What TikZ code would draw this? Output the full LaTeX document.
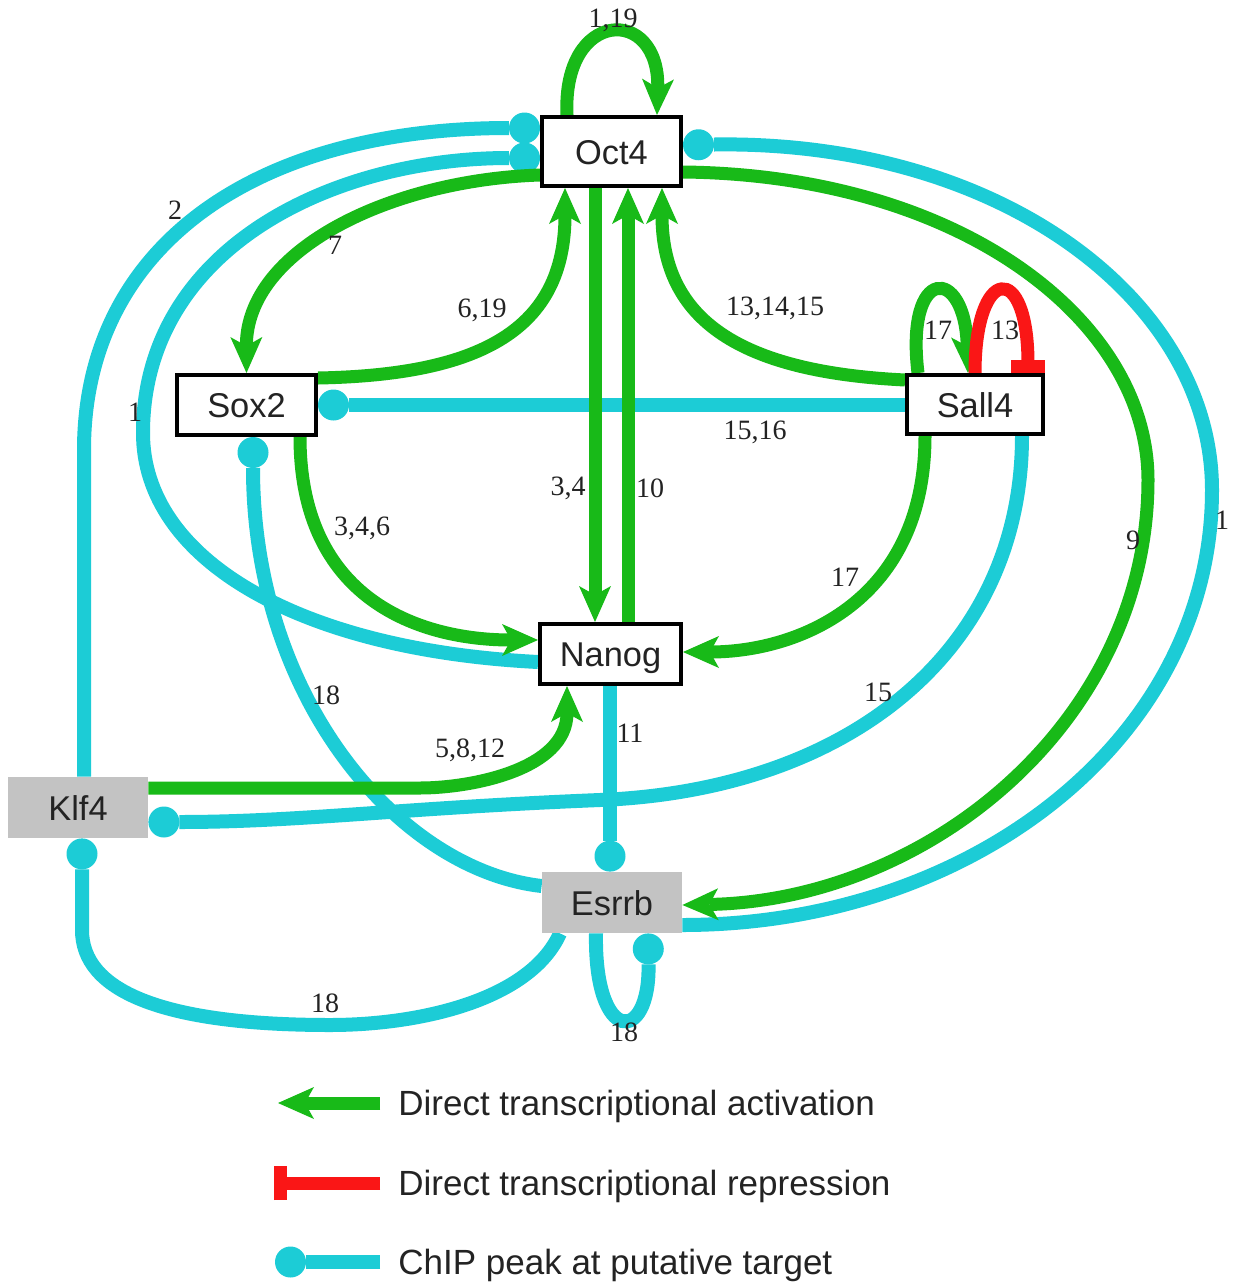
\documentclass[tikz,border=0pt]{standalone}
\usepackage{fontspec}
\setmainfont{Liberation Serif}
\newfontfamily\labfont{Liberation Sans}
\usetikzlibrary{arrows.meta,calc}
\definecolor{grn}{RGB}{24,186,24}
\definecolor{cyn}{RGB}{28,204,214}
\definecolor{rd}{RGB}{250,22,22}
\definecolor{gry}{RGB}{195,195,195}
\definecolor{txt}{RGB}{35,35,35}
\pgfdeclarelayer{bg}
\pgfsetlayers{bg,main}
\tikzset{
  gene/.style={draw=black, line width=2pt, fill=white, inner sep=0pt,
    text height=12.5pt, text depth=0pt, text=txt,
    font=\labfont\fontsize{17.2pt}{20pt}\selectfont},
  ggene/.style={fill=gry, inner sep=0pt, text height=12.5pt, text depth=0pt, text=txt,
    font=\labfont\fontsize{17.2pt}{20pt}\selectfont},
  act/.style={draw=grn, line width=6.5pt, -{Stealth[length=18pt,width=16pt,inset=4.5pt,line width=0pt]}},
  rep/.style={draw=rd, line width=6.5pt, -{Bar[width=17pt]}},
  chip/.style={draw=cyn, line width=7pt, -{Circle[length=15.5pt,line width=0pt]}},
  num/.style={font=\fontsize{14pt}{16pt}\selectfont, text=txt, inner sep=0pt},
  leg/.style={font=\labfont\fontsize{17.5pt}{20pt}\selectfont, text=txt, anchor=base west, inner sep=0pt},
}
\begin{document}
\begin{tikzpicture}[x=0.5pt,y=-0.5pt]
\useasboundingbox (0,0) rectangle (1232,1285);
% genes
\node[gene, minimum width=69.5pt, minimum height=34.5pt] (oct) at (611.5,151.5) {Oct4};
\node[gene, minimum width=69.5pt, minimum height=30pt] (sox) at (246.5,405) {Sox2};
\node[gene, minimum width=68pt, minimum height=29.5pt] (sal) at (975,404.5) {Sall4};
\node[gene, minimum width=70.5pt, minimum height=30pt] (nan) at (610.5,654) {Nanog};
\node[ggene, minimum width=70pt, minimum height=30.5pt] (klf) at (78,807.5) {Klf4};
\node[ggene, minimum width=70pt, minimum height=30.5pt] (esr) at (612,902.5) {Esrrb};
% numbers
\node[num] (n1) at (613,20) {1,19};
\node[num] (n2) at (335,245) {7};
\node[num] (n3) at (482,310) {6,19};
\node[num] (n4) at (775,308) {13,14,15};
\node[num] (n5) at (938,330) {17};
\node[num] (n6) at (1005,330) {13};
\node[num] (n7) at (175,210) {2};
\node[num] (n8) at (135,412) {1};
\node[num] (n9) at (755,432) {15,16};
\node[num] (n10) at (568,488) {3,4};
\node[num] (n11) at (650,488) {10};
\node[num] (n12) at (362,528) {3,4,6};
\node[num] (n13) at (845,577) {17};
\node[num] (n14) at (1133,540) {9};
\node[num] (n15) at (1222,520) {1};
\node[num] (n16) at (326,695) {18};
\node[num] (n17) at (878,692) {15};
\node[num] (n18) at (630,733) {11};
\node[num] (n19) at (470,750) {5,8,12};
\node[num] (n20) at (325,1003) {18};
\node[num] (n21) at (624,1032) {18};
% legend
\coordinate (la1) at (380,1103); \coordinate (lb1) at (278,1103);
\coordinate (la2) at (380,1183); \coordinate (lb2) at (274,1183);
\coordinate (la3) at (380,1262); \coordinate (lb3) at (275,1262);
\node[leg] (lt1) at (398,1115) {Direct transcriptional activation};
\node[leg] (lt2) at (398,1195) {Direct transcriptional repression};
\node[leg] (lt3) at (398,1274) {ChIP peak at putative target};
\begin{pgfonlayer}{bg}
\fill[white] (0,0) rectangle (1232,1285);
% ChIP
\draw[chip] (esr.east |- 0,925) .. controls (970,925) and (1212,740) .. (1212,490)
  .. controls (1212,300) and (1000,140) .. (oct.east |- 0,145);
\draw[chip] (klf.north -| 84,0) -- (84,450) .. controls (84,250) and (250,128) .. (oct.west |- 0,128);
\draw[chip] (nan.west |- 0,662) .. controls (300,650) and (143,560) .. (143,433)
  .. controls (143,250) and (330,158) .. (oct.west |- 0,158);
\draw[chip] (sal.west |- 0,405) -- (sox.east |- 0,405);
\draw[chip] (esr.west |- 0,886) .. controls (400,870) and (253,700) .. (sox.south -| 253,0);
\draw[chip] (nan.south -| 610,0) -- (esr.north -| 610,0);
\draw[chip] (sal.south -| 1022,0) .. controls (1022,650) and (850,790) .. (600,800)
  .. controls (400,808) and (300,822) .. (klf.east |- 0,822);
\draw[chip] (esr.south -| 560,0) .. controls (530,1000) and (420,1025) .. (330,1025)
  .. controls (160,1025) and (82,990) .. (82,930) -- (klf.south -| 82,0);
\draw[chip] (esr.south -| 596,0) .. controls (594,1045) and (650,1045) .. (esr.south -| 648,0);
% activation
\draw[act] (oct.north -| 567,0) .. controls (562,8) and (660,5) .. (oct.north -| 657,0);
\draw[act] (oct.west |- 0,175) .. controls (390,180) and (246,250) .. (sox.north);
\draw[act] (sox.east |- 0,378) .. controls (480,375) and (565,330) .. (oct.south -| 565,0);
\draw[act] (oct.south -| 595,0) -- (nan.north -| 595,0);
\draw[act] (nan.north -| 628,0) -- (oct.south -| 628,0);
\draw[act] (sal.west |- 0,380) .. controls (740,372) and (662,320) .. (oct.south -| 662,0);
\draw[act] (sox.south -| 300,0) .. controls (300,600) and (420,640) .. (nan.west |- 0,640);
\draw[act] (sal.south -| 925,0) .. controls (925,600) and (800,652) .. (nan.east |- 0,652);
\draw[act] (klf.east |- 0,788) -- (420,788) .. controls (470,788) and (567,770) .. (nan.south -| 567,0);
\draw[act] (oct.east |- 0,172) .. controls (960,175) and (1148,320) .. (1148,480)
  .. controls (1148,720) and (930,900) .. (esr.east |- 0,905);
\draw[act] (sal.north -| 918,0) .. controls (905,265) and (965,265) .. (sal.north -| 968,0);
% repression
\draw[rep] (sal.north -| 975,0) .. controls (975,265) and (1028,260) .. (sal.north -| 1028,0);
% legend lines
\draw[act] (la1) -- (lb1);
\draw[rep] (la2) -- (lb2);
\draw[chip] (la3) -- (lb3);
\end{pgfonlayer}
\end{tikzpicture}
\end{document}
